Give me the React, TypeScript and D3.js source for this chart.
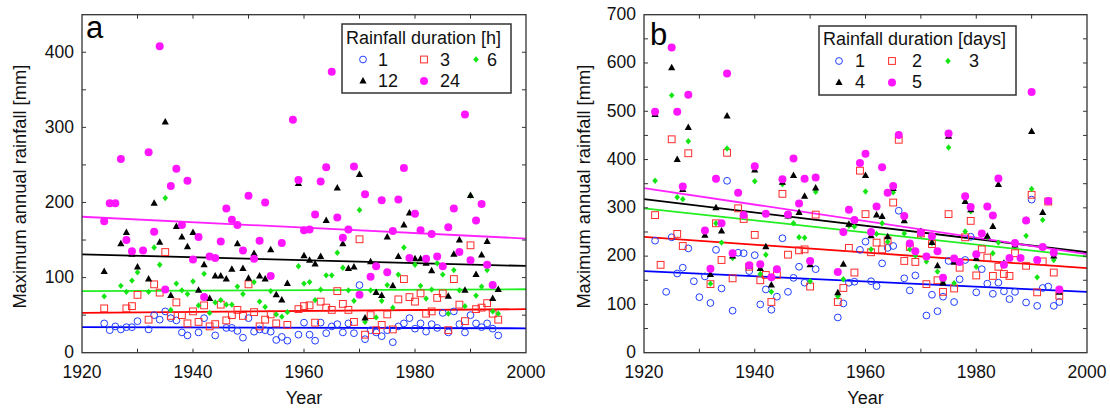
import React from "react";
import * as d3 from "d3";

type Pt = [number, number];

// ---------------- Panel a: rainfall duration in hours ----------------
const labelsA = ["1", "3", "6", "12", "24"];

const a1h: Pt[] = [
  [1924, 39], [1925, 30], [1926, 35], [1927, 31], [1928, 34], [1929, 34], [1930, 42], [1932, 31],
  [1933, 50], [1934, 44], [1935, 55], [1936, 46], [1937, 43], [1938, 27], [1939, 23], [1941, 27],
  [1942, 46], [1944, 23], [1946, 33], [1947, 33], [1948, 29], [1949, 20], [1950, 46], [1951, 28],
  [1952, 31], [1953, 30], [1954, 28], [1955, 17], [1956, 21], [1957, 16], [1959, 24], [1960, 40],
  [1961, 24], [1962, 16], [1963, 40], [1964, 26], [1965, 35], [1966, 38], [1967, 27], [1968, 39],
  [1969, 26], [1970, 90], [1971, 18], [1972, 30], [1973, 27], [1974, 22], [1975, 30], [1976, 14],
  [1977, 35], [1978, 39], [1979, 46], [1980, 32], [1981, 39], [1982, 28], [1983, 38], [1984, 33],
  [1985, 53], [1986, 27], [1987, 55], [1988, 38], [1989, 27], [1990, 50], [1991, 39], [1992, 34],
  [1993, 39], [1994, 32], [1995, 23],
];

const a3h: Pt[] = [
  [1924, 59], [1928, 59], [1929, 62], [1930, 77], [1932, 44], [1933, 91], [1934, 80], [1935, 134],
  [1936, 49], [1937, 67], [1938, 50], [1939, 39], [1940, 55], [1941, 41], [1942, 63], [1943, 35],
  [1944, 38], [1945, 64], [1946, 43], [1947, 50], [1948, 57], [1949, 49], [1950, 91], [1951, 54],
  [1952, 35], [1953, 44], [1954, 51], [1955, 39], [1957, 37], [1959, 58], [1960, 62], [1961, 63],
  [1962, 40], [1963, 68], [1964, 60], [1965, 57], [1966, 82], [1967, 65], [1968, 57], [1969, 41],
  [1970, 151], [1971, 24], [1972, 50], [1973, 30], [1974, 37], [1975, 51], [1976, 31], [1977, 71],
  [1978, 98], [1979, 74], [1980, 68], [1981, 79], [1982, 52], [1983, 55], [1984, 73], [1985, 79],
  [1986, 30], [1987, 98], [1988, 64], [1989, 42], [1990, 143], [1991, 58], [1992, 60], [1993, 66],
  [1994, 52], [1995, 44],
];

const a6h: Pt[] = [
  [1924, 75], [1927, 89], [1928, 81], [1929, 96], [1930, 107], [1932, 81], [1933, 140], [1934, 117],
  [1935, 206], [1936, 57], [1937, 92], [1938, 83], [1939, 78], [1940, 95], [1941, 63], [1942, 105],
  [1943, 53], [1944, 67], [1945, 70], [1946, 64], [1947, 64], [1948, 88], [1949, 78], [1951, 94],
  [1952, 68], [1953, 61], [1954, 82], [1955, 51], [1956, 48], [1957, 54], [1959, 115], [1960, 92],
  [1961, 94], [1962, 70], [1963, 84], [1964, 103], [1965, 103], [1966, 133], [1967, 113], [1968, 83],
  [1969, 69], [1970, 190], [1971, 41], [1972, 83], [1973, 47], [1974, 69], [1975, 90], [1976, 60],
  [1977, 104], [1978, 140], [1979, 127], [1980, 117], [1981, 89], [1982, 72], [1983, 84], [1984, 119],
  [1985, 104], [1986, 52], [1987, 110], [1988, 83], [1989, 62], [1990, 209], [1991, 76], [1992, 88],
  [1993, 110], [1994, 55], [1995, 52],
];

const a12h: Pt[] = [
  [1924, 108], [1927, 145], [1928, 160], [1929, 131], [1930, 114], [1932, 98], [1933, 199], [1934, 147],
  [1935, 307], [1936, 76], [1937, 168], [1938, 154], [1939, 141], [1940, 160], [1941, 83], [1942, 117],
  [1943, 72], [1944, 102], [1945, 102], [1946, 98], [1947, 111], [1948, 145], [1949, 112], [1950, 99],
  [1951, 132], [1952, 102], [1953, 98], [1954, 137], [1955, 77], [1956, 70], [1957, 92], [1959, 225],
  [1960, 129], [1961, 123], [1962, 118], [1963, 128], [1964, 176], [1966, 219], [1967, 145], [1968, 112],
  [1969, 114], [1970, 237], [1971, 46], [1972, 121], [1973, 80], [1974, 76], [1975, 154], [1976, 89],
  [1977, 128], [1978, 170], [1979, 186], [1980, 125], [1981, 125], [1982, 119], [1983, 109], [1986, 75],
  [1987, 131], [1988, 150], [1989, 83], [1990, 209], [1991, 104], [1992, 130], [1993, 148], [1994, 72],
  [1995, 84],
];

const a24h: Pt[] = [
  [1924, 175], [1925, 199], [1926, 199], [1927, 258], [1928, 150], [1929, 135], [1931, 136], [1932, 267],
  [1933, 161], [1934, 408], [1935, 84], [1936, 222], [1937, 245], [1938, 170], [1939, 229], [1940, 124],
  [1941, 154], [1942, 74], [1943, 128], [1944, 126], [1945, 148], [1946, 192], [1947, 177], [1948, 170],
  [1949, 136], [1950, 209], [1951, 125], [1952, 149], [1953, 200], [1954, 102], [1956, 146], [1958, 310],
  [1959, 230], [1960, 163], [1961, 164], [1962, 184], [1963, 228], [1964, 247], [1965, 374], [1966, 180],
  [1967, 153], [1968, 164], [1969, 248], [1970, 77], [1971, 211], [1972, 101], [1973, 115], [1974, 203],
  [1975, 107], [1976, 162], [1977, 204], [1978, 246], [1979, 126], [1980, 185], [1981, 163], [1982, 125],
  [1983, 158], [1984, 128], [1985, 115], [1986, 167], [1987, 192], [1988, 134], [1989, 317], [1990, 123],
  [1991, 176], [1992, 198], [1993, 117], [1994, 90],
];

// trend line values at 1920 and 2000, series order 1,3,6,12,24
const trendA1920 = [34, 53, 82, 131, 181];
const trendA2000 = [32.5, 58, 84.5, 115.5, 152];

// ---------------- Panel b: rainfall duration in days ----------------
const labelsB = ["1", "2", "3", "4", "5"];

const b1d: Pt[] = [
  [1922, 232], [1924, 126], [1925, 239], [1926, 164], [1927, 176], [1928, 216], [1929, 148], [1930, 115],
  [1931, 158], [1932, 103], [1933, 213], [1934, 133], [1935, 356], [1936, 87], [1937, 207], [1938, 206],
  [1939, 169], [1940, 202], [1941, 100], [1942, 131], [1943, 89], [1944, 116], [1945, 237], [1946, 126],
  [1947, 155], [1948, 178], [1949, 145], [1951, 173], [1955, 73], [1956, 102], [1957, 145], [1958, 147],
  [1959, 213], [1960, 230], [1961, 148], [1962, 138], [1963, 185], [1964, 217], [1965, 221], [1966, 294],
  [1967, 154], [1968, 129], [1969, 160], [1971, 77], [1972, 120], [1973, 86], [1974, 116], [1975, 190],
  [1976, 105], [1977, 152], [1978, 192], [1979, 240], [1980, 125], [1981, 173], [1982, 143], [1983, 122],
  [1984, 145], [1985, 127], [1986, 111], [1987, 126], [1989, 104], [1990, 317], [1991, 97], [1992, 134],
  [1993, 137], [1994, 97], [1995, 105],
];

const b2d: Pt[] = [
  [1922, 285], [1923, 182], [1925, 442], [1926, 246], [1927, 221], [1928, 413], [1932, 142], [1933, 268],
  [1934, 192], [1935, 414], [1936, 154], [1937, 299], [1938, 277], [1939, 178], [1940, 244], [1941, 150],
  [1942, 161], [1943, 105], [1944, 161], [1945, 329], [1946, 203], [1948, 212], [1949, 214], [1950, 137],
  [1951, 286], [1955, 105], [1956, 134], [1957, 217], [1958, 166], [1959, 377], [1960, 287], [1961, 208],
  [1962, 228], [1963, 214], [1964, 232], [1965, 311], [1966, 441], [1967, 190], [1968, 219], [1969, 188],
  [1970, 247], [1971, 142], [1972, 225], [1973, 150], [1974, 126], [1975, 287], [1976, 133], [1977, 176],
  [1978, 239], [1979, 273], [1980, 160], [1981, 214], [1982, 197], [1983, 159], [1984, 178], [1985, 163],
  [1986, 159], [1987, 206], [1989, 180], [1990, 327], [1991, 125], [1992, 189], [1993, 313], [1994, 166],
  [1995, 118],
];

const b3d: Pt[] = [
  [1922, 356], [1925, 533], [1926, 322], [1927, 318], [1928, 438], [1932, 143], [1933, 268], [1934, 228],
  [1935, 423], [1936, 196], [1939, 178], [1940, 355], [1941, 163], [1942, 203], [1943, 126], [1945, 349],
  [1946, 282], [1947, 268], [1948, 239], [1949, 238], [1950, 148], [1951, 333], [1955, 117], [1956, 152],
  [1957, 263], [1958, 261], [1960, 334], [1961, 214], [1962, 246], [1963, 268], [1964, 230], [1965, 332],
  [1967, 247], [1968, 214], [1969, 201], [1970, 244], [1971, 189], [1972, 227], [1973, 168], [1974, 147],
  [1975, 425], [1976, 144], [1978, 251], [1979, 293], [1980, 178], [1981, 247], [1982, 239], [1983, 206],
  [1984, 228], [1985, 185], [1987, 221], [1989, 242], [1990, 339], [1991, 156], [1992, 275], [1994, 192],
  [1995, 127],
];

const b4d: Pt[] = [
  [1922, 493], [1925, 590], [1926, 400], [1927, 338], [1928, 466], [1931, 243], [1932, 162], [1933, 300],
  [1934, 252], [1935, 490], [1936, 200], [1939, 180], [1940, 378], [1941, 174], [1942, 219], [1943, 140],
  [1945, 353], [1946, 283], [1947, 367], [1948, 290], [1949, 324], [1950, 182], [1951, 341], [1955, 124],
  [1956, 183], [1957, 266], [1960, 367], [1961, 242], [1962, 285], [1963, 282], [1964, 240], [1965, 340],
  [1966, 451], [1967, 273], [1970, 251], [1972, 228], [1973, 180], [1974, 144], [1975, 448], [1976, 187],
  [1978, 313], [1979, 296], [1980, 195], [1982, 241], [1983, 261], [1984, 348], [1985, 185], [1987, 223],
  [1989, 274], [1990, 458], [1992, 290], [1993, 313], [1994, 200], [1995, 125],
];

const b5d: Pt[] = [
  [1922, 499], [1925, 632], [1926, 499], [1927, 344], [1928, 534], [1931, 253], [1932, 174], [1933, 360],
  [1934, 268], [1935, 578], [1936, 206], [1937, 331], [1938, 285], [1939, 181], [1940, 386], [1941, 183],
  [1942, 288], [1943, 156], [1944, 173], [1945, 359], [1946, 286], [1947, 402], [1948, 309], [1949, 360],
  [1950, 190], [1951, 363], [1955, 167], [1956, 250], [1957, 296], [1958, 275], [1959, 393], [1960, 412],
  [1961, 250], [1962, 303], [1963, 384], [1964, 331], [1965, 345], [1966, 451], [1967, 283], [1968, 226],
  [1969, 210], [1970, 249], [1971, 199], [1972, 241], [1973, 210], [1974, 155], [1975, 454], [1976, 195],
  [1977, 188], [1978, 324], [1979, 302], [1980, 204], [1981, 247], [1982, 303], [1983, 284], [1984, 361],
  [1985, 182], [1986, 196], [1987, 227], [1988, 196], [1989, 274], [1990, 540], [1991, 192], [1992, 219],
  [1993, 314], [1994, 207], [1995, 131],
];

const trendB1920 = [169, 240, 299, 318, 341];
const trendB2000 = [126, 175, 199, 208, 204];

const xTickLabels = [1920, 1940, 1960, 1980, 2000];
const yTickLabelsA = [0, 100, 200, 300, 400];
const yTickLabelsB = [0, 100, 200, 300, 400, 500, 600, 700];

// ---------------- styling ----------------
const FONT = "'Liberation Sans', Arial, Helvetica, sans-serif";
const shapes = ["circleOpen", "squareOpen", "diamond", "triangle", "circle"];
const markerColors = ["#1f3dff", "#ff2a2a", "#14e614", "#000000", "#ff16ff"];
const lineColors = ["#0000ff", "#ff0000", "#22ee22", "#000000", "#ff22ff"];

function Marker({ shape, color, x, y }: { shape: string; color: string; x: number; y: number }) {
  switch (shape) {
    case "circleOpen":
      return <circle cx={x} cy={y} r={3.4} fill="none" stroke={color} strokeWidth={1} />;
    case "squareOpen":
      return <rect x={x - 3.4} y={y - 3.4} width={6.8} height={6.8} fill="none" stroke={color} strokeWidth={1} />;
    case "diamond":
      return <path d={`M${x},${y - 3.2}L${x + 2.8},${y}L${x},${y + 3.2}L${x - 2.8},${y}Z`} fill={color} />;
    case "triangle":
      return <path d={`M${x},${y - 4.1}L${x + 3.6},${y + 2.4}L${x - 3.6},${y + 2.4}Z`} fill={color} />;
    default:
      return <circle cx={x} cy={y} r={4} fill={color} />;
  }
}

interface LegendSpec {
  box: [number, number, number, number];
  title: string;
  titlePos: [number, number];
  markerX: number[];
  textX: number[];
  markerY: number[];
  textY: number[];
}

interface PanelSpec {
  left: number;
  right: number;
  top: number;
  bottom: number;
  yMax: number;
  yLabels: number[];
  series: Pt[][];
  trend1920: number[];
  trend2000: number[];
  labels: string[];
  letter: string;
  letterPos: [number, number];
  yTitleX: number;
  legend: LegendSpec;
}

function Panel({ p }: { p: PanelSpec }) {
  const x = d3.scaleLinear().domain([1920, 2000]).range([p.left, p.right]);
  const y = d3.scaleLinear().domain([0, p.yMax]).range([p.bottom, p.top]);
  const tickLen = 4;
  const xMinor = d3.range(1930, 2000, 10);
  const yMinor = d3.range(50, p.yMax, 50);
  const line = d3.line<Pt>().x((d) => x(d[0])).y((d) => y(d[1]));
  const L = p.legend;
  return (
    <g>
      {p.series.map((_, i) => (
        <path
          key={"t" + i}
          d={line([[1920, p.trend1920[i]], [2000, p.trend2000[i]]]) || ""}
          stroke={lineColors[i]}
          strokeWidth={1.8}
          fill="none"
        />
      ))}
      {p.series.map((s, i) => (
        <g key={"s" + i}>
          {s.map((d, j) => (
            <Marker key={j} shape={shapes[i]} color={markerColors[i]} x={x(d[0])} y={y(d[1])} />
          ))}
        </g>
      ))}
      <rect
        x={p.left}
        y={p.top}
        width={p.right - p.left}
        height={p.bottom - p.top}
        fill="none"
        stroke="#333"
        strokeWidth={1.3}
      />
      {xMinor.map((v) => (
        <g key={"xt" + v} stroke="#333" strokeWidth={1}>
          <line x1={x(v)} x2={x(v)} y1={p.bottom} y2={p.bottom - tickLen} />
          <line x1={x(v)} x2={x(v)} y1={p.top} y2={p.top + tickLen} />
        </g>
      ))}
      {yMinor.map((v) => (
        <g key={"yt" + v} stroke="#333" strokeWidth={1}>
          <line x1={p.left} x2={p.left + tickLen} y1={y(v)} y2={y(v)} />
          <line x1={p.right} x2={p.right - tickLen} y1={y(v)} y2={y(v)} />
        </g>
      ))}
      {xTickLabels.map((v) => (
        <text key={"xl" + v} x={x(v)} y={378} textAnchor="middle" fontSize={17.5} fontFamily={FONT} fill="#111">
          {v}
        </text>
      ))}
      {p.yLabels.map((v) => (
        <text
          key={"yl" + v}
          x={p.left - 8}
          y={y(v)}
          dy="0.3em"
          textAnchor="end"
          fontSize={17.5}
          fontFamily={FONT}
          fill="#111"
        >
          {v}
        </text>
      ))}
      <text
        x={(p.left + p.right) / 2}
        y={404}
        textAnchor="middle"
        fontSize={18}
        fontFamily={FONT}
        fill="#111"
      >
        Year
      </text>
      <text
        transform={`translate(${p.yTitleX},${(p.top + p.bottom) / 2 + 3}) rotate(-90)`}
        textAnchor="middle"
        dy="0.35em"
        fontSize={18.3}
        fontFamily={FONT}
        fill="#111"
      >
        Maximum annual rainfall [mm]
      </text>
      <text x={p.letterPos[0]} y={p.letterPos[1]} fontSize={31} fontFamily={FONT} fill="#000">
        {p.letter}
      </text>
      <rect x={L.box[0]} y={L.box[1]} width={L.box[2]} height={L.box[3]} fill="#fff" stroke="#333" strokeWidth={1.5} />
      <text x={L.titlePos[0]} y={L.titlePos[1]} fontSize={18} fontFamily={FONT} fill="#111">
        {L.title}
      </text>
      {p.labels.map((lab, i) => {
        const col = i % 3;
        const row = Math.floor(i / 3);
        return (
          <g key={"lg" + i}>
            <Marker shape={shapes[i]} color={markerColors[i]} x={L.markerX[col]} y={L.markerY[row]} />
            <text x={L.textX[col]} y={L.textY[row]} fontSize={18} fontFamily={FONT} fill="#111">
              {lab}
            </text>
          </g>
        );
      })}
    </g>
  );
}

const panelA: PanelSpec = {
  left: 82,
  right: 526,
  top: 14.7,
  bottom: 352.7,
  yMax: 450,
  yLabels: yTickLabelsA,
  series: [a1h, a3h, a6h, a12h, a24h],
  trend1920: trendA1920,
  trend2000: trendA2000,
  labels: labelsA,
  letter: "a",
  letterPos: [86, 38],
  yTitleX: 20,
  legend: {
    box: [342, 24, 169, 69],
    title: "Rainfall duration [h]",
    titlePos: [346, 43.5],
    markerX: [363, 424, 476],
    textX: [378, 440, 487],
    markerY: [59.5, 81],
    textY: [65.5, 87],
  },
};

const panelB: PanelSpec = {
  left: 644,
  right: 1087,
  top: 14.7,
  bottom: 352.7,
  yMax: 700,
  yLabels: yTickLabelsB,
  series: [b1d, b2d, b3d, b4d, b5d],
  trend1920: trendB1920,
  trend2000: trendB2000,
  labels: labelsB,
  letter: "b",
  letterPos: [650, 45],
  yTitleX: 584,
  legend: {
    box: [819, 26, 197, 69],
    title: "Rainfall duration [days]",
    titlePos: [823, 45],
    markerX: [839, 892, 948],
    textX: [855, 912, 969],
    markerY: [61, 82.5],
    textY: [67, 88],
  },
};

export default function App() {
  return (
    <svg
      width={1110}
      height={410}
      viewBox="0 0 1110 410"
      style={{ position: "absolute", left: 0, top: 0, background: "#fff" }}
    >
      <rect x={0} y={0} width={1110} height={410} fill="#fff" />
      <Panel p={panelA} />
      <Panel p={panelB} />
    </svg>
  );
}
